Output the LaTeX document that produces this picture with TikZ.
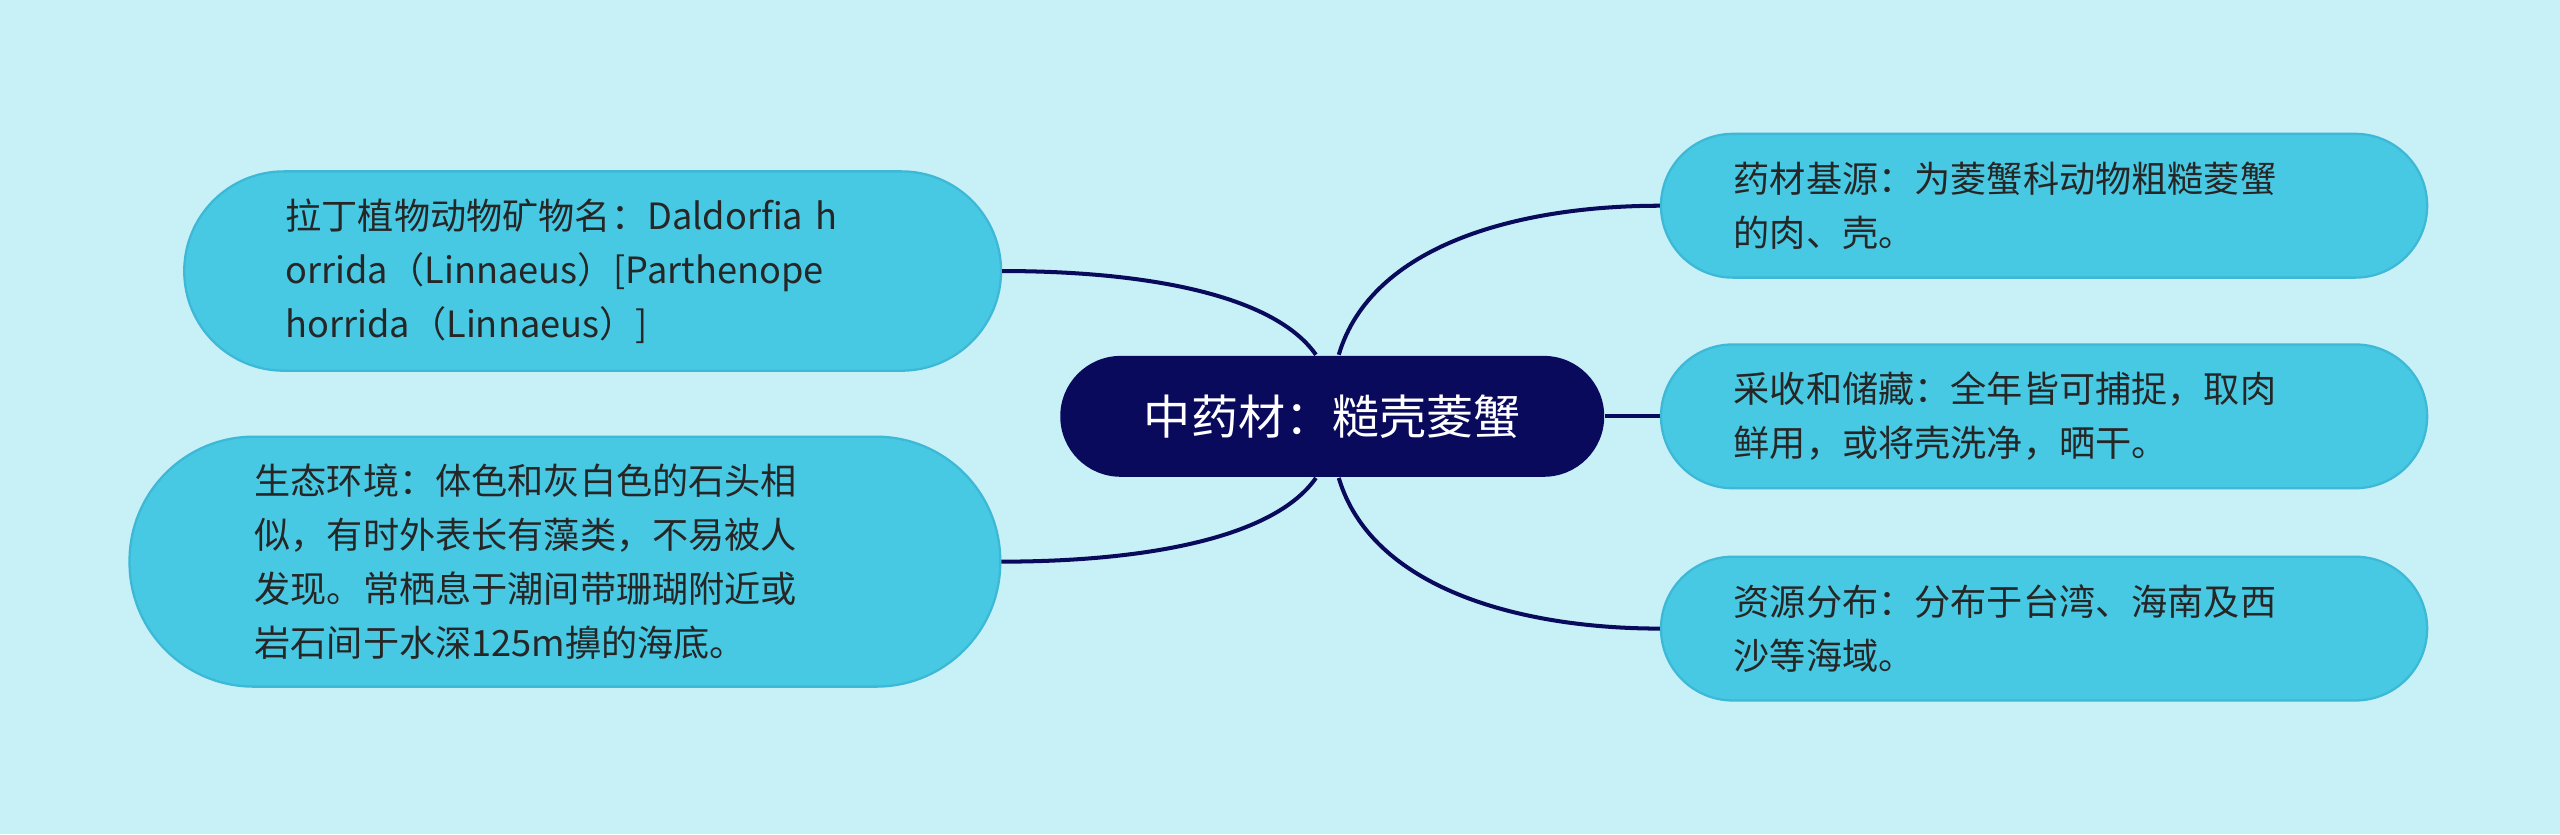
\documentclass[tikz,border=0pt]{standalone}
\usepackage{fontspec}
\setmainfont{Noto Sans CJK SC}
\definecolor{bg}{HTML}{C8F0F7}
\definecolor{boxc}{HTML}{48C9E3}
\definecolor{boxb}{HTML}{3DB8D6}
\definecolor{navy}{HTML}{0A0A5C}
\begin{document}
\begin{tikzpicture}[x=0.01cm,y=-0.01cm,
  leaf/.style={fill=boxc,draw=boxb,line width=0.4pt,text=black!85,align=left,inner sep=0pt,
    font=\fontsize{6.3pt}{9.4pt}\selectfont},
  conn/.style={draw=navy,line width=0.7pt}]
\fill[bg] (0,0) rectangle (1568,511);
\useasboundingbox (0,0) rectangle (1568,511);
\node[fill=navy,text=white,rounded corners=0.37cm,minimum width=3.33cm,minimum height=0.74cm,inner sep=0pt,
  font=\fontsize{8.2pt}{10pt}\selectfont] (c) at (816,255) {中药材：糙壳菱蟹};
\node[leaf,rounded corners=0.61cm,minimum width=5cm,minimum height=1.22cm,text width=3.76cm] (l1) at (363,166)
 {拉丁植物动物矿物名：Daldorfia h\\orrida（Linnaeus）[Parthenope\\horrida（Linnaeus）]};
\node[leaf,rounded corners=0.76cm,minimum width=5.33cm,minimum height=1.53cm,text width=3.8cm] (l2) at (346,344)
 {生态环境：体色和灰白色的石头相\\似，有时外表长有藻类，不易被人\\发现。常栖息于潮间带珊瑚附近或\\岩石间于水深125m擤的海底。};
\node[leaf,rounded corners=0.44cm,minimum width=4.69cm,minimum height=0.88cm,text width=3.8cm] (r1) at (1252,126)
 {药材基源：为菱蟹科动物粗糙菱蟹\\的肉、壳。};
\node[leaf,rounded corners=0.44cm,minimum width=4.69cm,minimum height=0.88cm,text width=3.8cm] (r2) at (1252,255)
 {采收和储藏：全年皆可捕捉，取肉\\鲜用，或将壳洗净，晒干。};
\node[leaf,rounded corners=0.44cm,minimum width=4.69cm,minimum height=0.88cm,text width=3.8cm] (r3) at (1252,385)
 {资源分布：分布于台湾、海南及西\\沙等海域。};
\coordinate (ct1) at ([xshift=-0.1cm]c.north);
\coordinate (ct2) at ([xshift=0.04cm]c.north);
\coordinate (cb1) at ([xshift=-0.1cm]c.south);
\coordinate (cb2) at ([xshift=0.04cm]c.south);
\draw[conn] (ct1) .. controls (780,180) and (700,166) .. (l1.east);
\draw[conn] (cb1) .. controls (780,330) and (700,344) .. (l2.east);
\draw[conn] (ct2) .. controls (840,150) and (930,126) .. (r1.west);
\draw[conn] (c.east) -- (r2.west);
\draw[conn] (cb2) .. controls (840,360) and (930,385) .. (r3.west);
\end{tikzpicture}
\end{document}
